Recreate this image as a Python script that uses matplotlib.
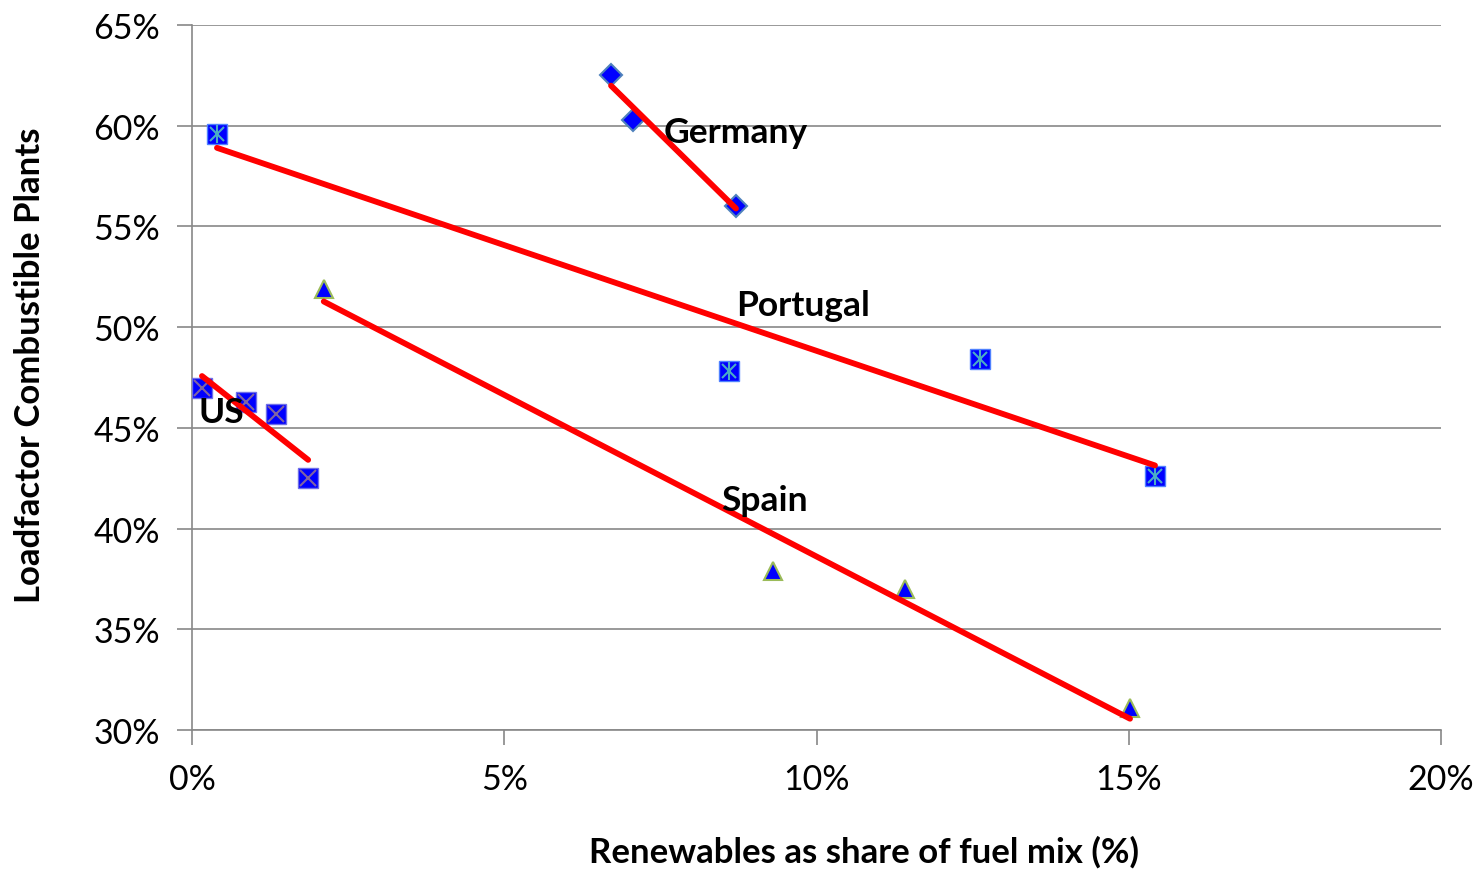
import numpy as np
import matplotlib
matplotlib.use("Agg")
import matplotlib.pyplot as plt
from matplotlib.ticker import FuncFormatter

plt.rcParams['font.family'] = ['Lato', 'DejaVu Sans']

# Data (renewables share %, load factor %)
us_x = [0.16, 0.86, 1.35, 1.86]
us_y = [47.0, 46.3, 45.7, 42.5]
germany_x = [6.71, 7.06, 8.71]
germany_y = [62.5, 60.3, 56.0]
portugal_x = [0.40, 8.60, 12.62, 15.42]
portugal_y = [59.6, 47.8, 48.4, 42.6]
spain_x = [2.11, 9.30, 11.42, 15.02]
spain_y = [51.9, 37.9, 37.0, 31.1]

labels = ["US", "Germany", "Portugal", "Spain"]
label_pos = [(0.1, 45.8), (7.55, 59.7), (8.72, 51.1), (8.48, 41.4)]

x_ticks = [0, 5, 10, 15, 20]
y_ticks = [30, 35, 40, 45, 50, 55, 60, 65]

fig = plt.figure(figsize=(14.78, 8.70), dpi=100)
ax = fig.add_axes([0.1299, 0.1598, 0.8451, 0.8103])

def trend(xs, ys):
    p = np.polyfit(xs, ys, 1)
    xx = np.array([min(xs), max(xs)])
    ax.plot(xx, np.polyval(p, xx), color='#ff0000', lw=4.2, solid_capstyle='round', zorder=4)

for xs, ys in [(us_x, us_y), (germany_x, germany_y), (portugal_x, portugal_y), (spain_x, spain_y)]:
    trend(xs, ys)

# US: square with x
ax.plot(us_x, us_y, 's', ms=14.5, mfc='#0000ff', mec='#6f6fe8', mew=1, zorder=3)
ax.plot(us_x, us_y, 'x', ms=12, mec='#8064a2', mew=1.5, zorder=3)
# Portugal: square with asterisk
ax.plot(portugal_x, portugal_y, 's', ms=14.5, mfc='#0000ff', mec='#4f81ff', mew=1, zorder=3)
ax.plot(portugal_x, portugal_y, 'x', ms=10, mec='#4bacc6', mew=1.5, zorder=3)
ax.plot(portugal_x, portugal_y, '|', ms=13, mec='#4bacc6', mew=1.5, zorder=3)
# Germany: diamond
ax.plot(germany_x, germany_y, 'D', ms=11.5, mfc='#0000ff', mec='#4f81bd', mew=1.5, zorder=3)
# Spain: triangle
ax.plot(spain_x, spain_y, '^', ms=13.5, mfc='#0000ff', mec='#9bbb59', mew=1.5, zorder=3)

for lab, (lx, ly) in zip(labels, label_pos):
    ax.text(lx, ly, lab, fontsize=25.5, fontweight='bold', ha='left', va='center', zorder=5)

ax.set_xlim(0, 20)
ax.set_ylim(30, 65)
ax.set_xticks(x_ticks)
ax.set_yticks(y_ticks)
ax.xaxis.set_major_formatter(FuncFormatter(lambda v, p: f"{v:.0f}%"))
ax.yaxis.set_major_formatter(FuncFormatter(lambda v, p: f"{v:.0f}%"))
ax.tick_params(axis='both', labelsize=24.5, length=11, width=1.2, color='#888888', direction='out')
ax.tick_params(axis='x', pad=13)
ax.tick_params(axis='y', pad=12)
ax.grid(axis='y', color='#888888', lw=1.2)
ax.set_axisbelow(True)
for s in ['top', 'right']:
    ax.spines[s].set_visible(False)
for s in ['left', 'bottom']:
    ax.spines[s].set_color('#888888')
    ax.spines[s].set_linewidth(1.2)

ax.set_xlabel("Renewables as share of fuel mix (%)", fontsize=25, fontweight='bold')
ax.set_ylabel("Loadfactor Combustible Plants", fontsize=25, fontweight='bold')
ax.xaxis.set_label_coords(0.538, -0.149)
ax.yaxis.set_label_coords(-0.117, 0.519)

fig.savefig("out.png", dpi=100)
